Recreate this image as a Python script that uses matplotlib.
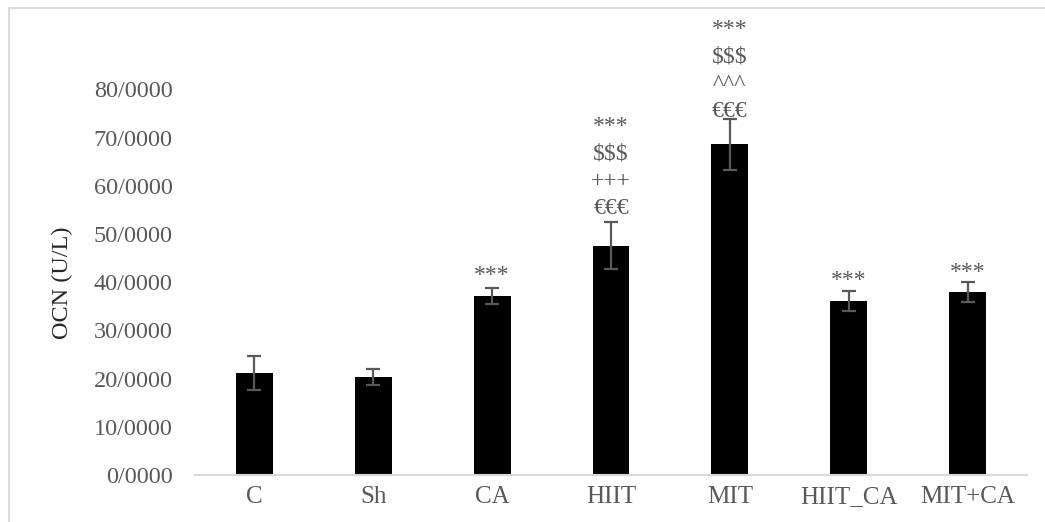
import matplotlib
matplotlib.use('Agg')
import matplotlib.pyplot as plt
from matplotlib.patches import Rectangle

# values
groups = ["C", "Sh", "CA", "HIIT", "MIT", "HIIT_CA", "MIT+CA"]
ocn_mean = [21.1, 20.3, 37.1, 47.6, 68.6, 36.1, 37.9]
ocn_err = [3.5, 1.6, 1.6, 4.8, 5.3, 2.1, 2.1]
y_ticks = [0, 10, 20, 30, 40, 50, 60, 70, 80]
y_tick_labels = ["{}/0000".format(v) for v in y_ticks]

# significance marks per bar, bottom line first
sig_marks = [
    [],
    [],
    ["***"],
    ["€€€", "+++", "$$$", "***"],
    ["€€€", "^^^", "$$$", "***"],
    ["***"],
    ["***"],
]
# gap (px) between error cap and the first mark baseline
sig_gap = [0, 0, 7, 8, 1.5, 4.5, 4.5]

GRAY = "#595959"
LIGHT = "#d9d9d9"
PX = 0.72  # points per pixel at 100 dpi

plt.rcParams['font.family'] = ['Liberation Serif', 'DejaVu Serif']

fig = plt.figure(figsize=(10.45, 5.22), dpi=100)
ax = fig.add_axes([195 / 1045, 47 / 522, 832 / 1045, 385.6 / 522])

x = list(range(len(groups)))
ax.bar(x, ocn_mean, width=0.31, color="black", zorder=2)
ax.errorbar(x, ocn_mean, yerr=ocn_err, fmt="none", ecolor=GRAY,
            elinewidth=1.6, capsize=4.8, capthick=1.6, zorder=3)

for i, marks in enumerate(sig_marks):
    top = ocn_mean[i] + ocn_err[i]
    for j, m in enumerate(marks):
        ax.annotate(m, (x[i], top), xytext=(0, (sig_gap[i] + 27.5 * j) * PX),
                    textcoords="offset points", ha="center", va="baseline",
                    fontsize=17, color=GRAY, annotation_clip=False)

ax.set_xlim(-0.5, len(groups) - 0.5)
ax.set_ylim(0, 80)
ax.set_yticks(y_ticks, labels=y_tick_labels)
ax.set_xticks(x, labels=groups)
ax.tick_params(axis="y", length=0, pad=16, labelsize=17.5, labelcolor=GRAY)
ax.tick_params(axis="x", length=0, pad=8, labelsize=18, labelcolor=GRAY)

for side in ["top", "right", "left"]:
    ax.spines[side].set_visible(False)
ax.spines["bottom"].set_color(LIGHT)
ax.spines["bottom"].set_linewidth(1.5)

fig.text(62 / 1045, 1 - 283 / 522, "OCN (U/L)", rotation=90, ha="center",
         va="center", fontsize=17.5, color="#262626")

# chart frame, only its top and left edges fall inside the picture
fig.patches.append(Rectangle((9 / 1045, -0.1), 2, 1.1 - 8 / 522, fill=False,
                             edgecolor=LIGHT, linewidth=1.5,
                             transform=fig.transFigure, figure=fig))

fig.savefig("out.png", dpi=100)
